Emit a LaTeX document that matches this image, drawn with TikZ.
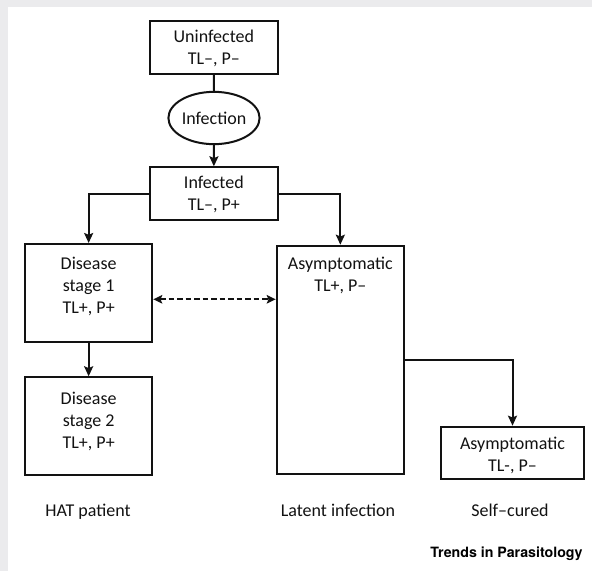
\documentclass[tikz,border=0pt]{standalone}
\usepackage{fontspec}
\setmainfont{Carlito}
\newfontfamily\trendsfont{TeX Gyre Heros}
\usetikzlibrary{arrows.meta,shapes.geometric}
\definecolor{bggray}{RGB}{235,235,237}
\definecolor{ink}{RGB}{18,18,18}
\begin{document}
\begin{tikzpicture}[x=1pt,y=-1pt,
  box/.style={draw=ink,line width=2pt,rectangle,inner sep=0pt},
  oval/.style={draw=ink,line width=2pt,ellipse,inner sep=0pt,minimum width=85.6pt,minimum height=52.3pt,font=\fontsize{18}{22}\selectfont,text=ink},
  txt/.style={align=center,font=\fontsize{18}{22}\selectfont,inner sep=0pt,text=ink},
  conn/.style={draw=ink,line width=2pt},
  arr/.style={conn,-{Stealth[length=10pt,width=9pt,inset=1.8pt]}},
  darr/.style={conn,line width=1.7pt,dash pattern=on 5.5pt off 3pt,{Stealth[length=9pt,width=8.5pt,inset=1.8pt]}-{Stealth[length=9pt,width=8.5pt,inset=1.8pt]}}]
\useasboundingbox (0,0) rectangle (592,571);
\fill[bggray] (0,0) rectangle (592,571);
\fill[white] (8.3,7) rectangle (592,571);

% boxes
\node[box,minimum width=127.7pt,minimum height=52.7pt] (uninf) at (213.85,47.35) {};
\node[oval] (infection) at (214,118) {Infection};
\node[box,minimum width=127.7pt,minimum height=52.7pt] (infected) at (213.85,193.65) {};
\node[box,minimum width=127.3pt,minimum height=98.3pt] (d1) at (88.65,293.15) {};
\node[box,minimum width=127.3pt,minimum height=97.7pt] (d2) at (88.65,426.15) {};
\node[box,minimum width=127.3pt,minimum height=228.3pt] (latent) at (340.35,359.85) {};
\node[box,minimum width=142.4pt,minimum height=52.6pt] (cured) at (512.5,453) {};

% texts
\node[txt] (tuninf) at (213.85,48.9) {\strut Uninfected\\\strut TL–, P–};
\node[txt] (tinfected) at (213.85,195.3) {\strut Infected\\\strut TL–, P+};
\node[txt] (td1) at (88.65,286.9) {\strut Disease\\\strut stage 1\\\strut TL+, P+};
\node[txt] (td2) at (88.65,422) {\strut Disease\\\strut stage 2\\\strut TL+, P+};
\node[txt] (tlatent) at (340.35,276.2) {\strut Asymptomatic\\\strut TL+, P–};
\node[txt] (tcured) at (512.5,455.7) {\strut Asymptomatic\\\strut TL-, P–};

% bottom labels
\node[txt] (lhat) at (88,512) {\strut HAT patient};
\node[txt] (llatent) at (338,512) {\strut Latent infection};
\node[txt] (lcured) at (510,512) {\strut Self–cured};
\node[anchor=base east,inner sep=0pt,text=black,font=\trendsfont\bfseries\fontsize{14.2}{16}\selectfont] (trends) at (582.7,557) {Trends in Parasitology};

% connectors
\coordinate (dashy) at (0,299.3);
\draw[conn] (uninf.south) -- (infection.north);
\draw[arr] (infection.south) -- (infected.north);
\draw[arr] (infected.west) -| (d1.north);
\draw[arr] (infected.east) -| (latent.north);
\draw[darr] (d1.east |- dashy) -- (latent.west |- dashy);
\draw[arr] (d1.south) -- (d2.north);
\draw[arr] (latent.east) -| (cured.north);
\end{tikzpicture}
\end{document}
